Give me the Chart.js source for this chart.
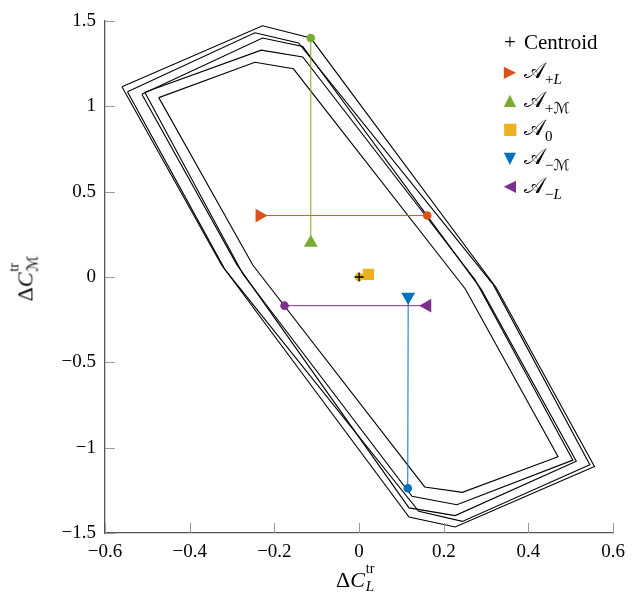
<!DOCTYPE html>
<html>
<head>
<meta charset="utf-8">
<script src="https://cdn.jsdelivr.net/npm/chart.js@4"></script>
<style>
  html, body { margin: 0; padding: 0; background: #fff; }
  #wrap { position: relative; width: 633px; height: 596px; font-family: 'Liberation Serif', serif; }
  #legend { position: absolute; left: 500px; top: 28px; font-size: 21px; color: #000; }
  #legend .row { height: 28.7px; display: flex; align-items: center; }
  #legend .ic { width: 20px; text-align: center; font-family: 'DejaVu Sans', sans-serif; font-size: 16px; margin-right: 4px; }
  .cal { font-family: 'DejaVu Sans', 'Liberation Serif', serif; font-style: normal; }
  #legend .big { font-size: 22px; }
  .sb { font-size: 15px; position: relative; top: 6px; }
  .ttl { position: absolute; font-size: 22px; white-space: nowrap; }
  .ss { display: inline-block; position: relative; width: 16px; height: 1em; }
  .ss .up { position: absolute; left: 1px; top: -4px; font-size: 14px; }
  .ss .dn { position: absolute; left: 1px; top: 13px; font-size: 15px; }
</style>
</head>
<body>
<div id="wrap">
  <canvas id="c" width="633" height="596"></canvas>
  <div id="legend"></div>
  <div class="ttl" id="xTitle" style="left:336px; top:565px;">Δ<i>C</i><span class="ss"><span class="up">tr</span><span class="dn"><i>L</i></span></span></div>
  <div class="ttl" id="yTitle" style="left:2px; top:265px; transform: rotate(-90deg);">Δ<i>C</i><span class="ss"><span class="up">tr</span><span class="dn cal">ℳ</span></span></div>
</div>
<script>
// polygonos (TL, T, TR, kink der., BR, B, BL, kink izq.)
const poly1 = [[-0.560, 1.115], [-0.228, 1.472], [-0.114, 1.400], [0.324, -0.063], [0.556, -1.110], [0.227, -1.465], [0.118, -1.406], [-0.325, 0.072]];
const poly2 = [[-0.547, 1.086], [-0.246, 1.431], [-0.143, 1.371], [0.317, -0.045], [0.545, -1.100], [0.244, -1.432], [0.141, -1.373], [-0.317, 0.045]];
const poly3 = [[-0.513, 1.071], [-0.228, 1.400], [-0.133, 1.351], [0.289, -0.074], [0.513, -1.080], [0.227, -1.398], [0.118, -1.353], [-0.289, 0.074]];
const poly4 = [[-0.506, 1.083], [-0.231, 1.329], [-0.133, 1.289], [0.274, -0.016], [0.505, -1.073], [0.231, -1.334], [0.125, -1.285], [-0.274, 0.016]];
const poly5 = [[-0.473, 1.051], [-0.246, 1.258], [-0.155, 1.220], [0.251, -0.070], [0.470, -1.053], [0.244, -1.262], [0.155, -1.230], [-0.251, 0.070]];

// series: [marcador, punto final]
const centroid = [0, 0];
const aPlusL = [[-0.235, 0.36], [0.161, 0.36]];
const aPlusM = [[-0.114, 0.20], [-0.114, 1.40]];
const aZero = [[0.022, 0.015], [0, 0]];
const aMinusM = [[0.116, -0.115], [0.115, -1.238]];
const aMinusL = [[0.161, -0.168], [-0.176, -0.168]];

const seriesSubs = ['+<i>L</i>', '+<span class="cal">ℳ</span>', '0', '−<span class="cal">ℳ</span>', '−<i>L</i>'];
const seriesColors = ['#D95319', '#77AC30', '#EDB120', '#0072BD', '#7E2F8E'];
const seriesGlyphs = ['▶', '▲', '■', '▼', '◀'];

const xTicks = [-0.6, -0.4, -0.2, 0, 0.2, 0.4, 0.6];
const yTicks = [-1.5, -1, -0.5, 0, 0.5, 1, 1.5];

const toPts = arr => arr.map(p => ({ x: p[0], y: p[1] }));
const fmt = v => String(Math.round(v * 10) / 10).replace('-', '−');

const datasets = [];
const seriesData = [aPlusL, aPlusM, aZero, aMinusM, aMinusL];
const rots = [90, 0, 0, 180, 270];
seriesData.forEach((d, i) => {
  datasets.push({
    data: toPts(d),
    showLine: true,
    borderColor: seriesColors[i],
    borderWidth: 1,
    backgroundColor: seriesColors[i],
    pointStyle: [i === 2 ? 'rect' : 'triangle', 'circle'],
    pointRotation: [rots[i], 0],
    pointRadius: [8, 4.3],
    pointBorderWidth: 0,
    order: 1
  });
});
datasets.unshift({
  data: [{ x: centroid[0], y: centroid[1] }],
  pointStyle: 'cross',
  pointRadius: 4.5,
  borderColor: '#000',
  pointBorderWidth: 1.3,
  order: 0
});
[poly1, poly2, poly3, poly4, poly5].forEach(p => {
  datasets.push({
    data: toPts(p.concat([p[0]])),
    showLine: true,
    borderColor: '#000',
    borderWidth: 1.1,
    pointRadius: 0,
    order: 5
  });
});

// ticks hacia adentro
const innerTicks = {
  id: 'innerTicks',
  afterDatasetsDraw(chart) {
    const { ctx, chartArea: a } = chart;
    const sx = chart.scales.x, sy = chart.scales.y;
    ctx.save();
    ctx.strokeStyle = '#999';
    ctx.lineWidth = 1;
    ctx.beginPath();
    sx.ticks.forEach((t, i) => {
      const px = Math.round(sx.getPixelForTick(i)) + 0.5;
      ctx.moveTo(px, a.bottom); ctx.lineTo(px, a.bottom - 10);
    });
    sy.ticks.forEach((t, i) => {
      const py = Math.round(sy.getPixelForTick(i)) + 0.5;
      ctx.moveTo(a.left, py); ctx.lineTo(a.left + 10, py);
    });
    ctx.stroke();
    ctx.restore();
  }
};

const tickFont = { family: 'Liberation Serif', size: 19 };

new Chart(document.getElementById('c'), {
  type: 'scatter',
  data: { datasets },
  options: {
    responsive: false,
    animation: false,
    devicePixelRatio: 1,
    layout: { padding: { left: 0, right: 18, top: 21, bottom: 0 } },
    plugins: { legend: { display: false }, tooltip: { enabled: false } },
    scales: {
      x: {
        type: 'linear', min: -0.6, max: 0.6,
        afterBuildTicks: s => { s.ticks = xTicks.map(v => ({ value: v })); },
        afterFit: s => { s.height = 63; },
        ticks: { callback: fmt, font: tickFont, color: '#000', padding: 8, maxRotation: 0 },
        grid: { drawOnChartArea: false, drawTicks: false },
        border: { display: true, color: '#555', width: 1.3 }
      },
      y: {
        type: 'linear', min: -1.5, max: 1.5,
        afterBuildTicks: s => { s.ticks = yTicks.map(v => ({ value: v })); },
        afterFit: s => { s.width = 105; },
        ticks: { callback: fmt, font: tickFont, color: '#000', padding: 9 },
        grid: { drawOnChartArea: false, drawTicks: false },
        border: { display: true, color: '#555', width: 1.3 }
      }
    }
  },
  plugins: [innerTicks]
});

// leyenda
const lg = document.getElementById('legend');
let html = '<div class="row"><span class="ic" style="font-family:Liberation Serif;font-size:21px">+</span><span>Centroid</span></div>';
seriesSubs.forEach((s, i) => {
  html += '<div class="row"><span class="ic" style="color:' + seriesColors[i] + '">' + seriesGlyphs[i] + '</span>' +
    '<span><span class="cal big">𝒜</span><span class="sb">' + s + '</span></span></div>';
});
lg.innerHTML = html;
</script>
</body>
</html>
